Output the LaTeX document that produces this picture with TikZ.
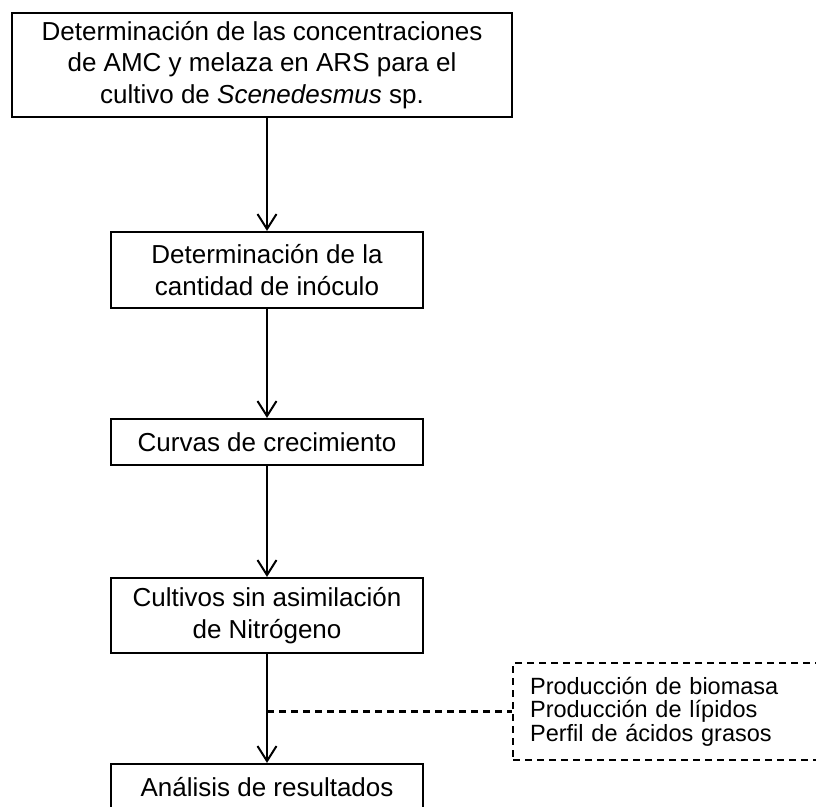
\documentclass[tikz,border=0pt]{standalone}
\usepackage{fontspec}
\setmainfont{Liberation Sans}
\usetikzlibrary{arrows.meta}
\tikzset{
  stepbox/.style={draw, line width=2.2pt, align=center, inner sep=0pt,
    font=\fontsize{26}{31.5}\selectfont},
  flowarrow/.style={line width=2.2pt, -{Straight Barb[length=15pt,width=19pt,line width=2pt]}},
  notebox/.style={draw, dashed, dash pattern=on 7pt off 5pt, line width=2.2pt,
    align=left, inner xsep=17pt, inner ysep=0pt, text width=306pt,
    minimum height=97pt, font=\fontsize{23.5}{23.5}\selectfont},
  noteline/.style={line width=2.2pt, dash pattern=on 7pt off 5pt}
}
\begin{document}
\begin{tikzpicture}[x=1pt,y=-1pt]
\useasboundingbox (0,0) rectangle (816,806);
\node[stepbox, minimum width=500pt, minimum height=104pt] (b1) at (262,65)
  {Determinación de las concentraciones\\de AMC y melaza en ARS para el\\cultivo de \textit{Scenedesmus} sp.};
\node[stepbox, minimum width=312pt, minimum height=76pt] (b2) at (267,270)
  {Determinación de la\\cantidad de inóculo};
\node[stepbox, minimum width=312pt, minimum height=46pt] (b3) at (267,442)
  {Curvas de crecimiento};
\node[stepbox, minimum width=312pt, minimum height=75pt] (b4) at (267,615.5)
  {Cultivos sin asimilación\\de Nitrógeno};
\node[stepbox, minimum width=312pt, minimum height=46pt] (b5) at (267,787)
  {Análisis de resultados};
\node[notebox, anchor=west] (nb) at (512,711.5)
  {Producción de biomasa\\Producción de lípidos\\Perfil de ácidos grasos};
\draw[flowarrow] (b2.north |- b1.south) -- (b2.north);
\draw[flowarrow] (b2.south) -- (b3.north);
\draw[flowarrow] (b3.south) -- (b4.north);
\draw[flowarrow] (b4.south) -- (b5.north);
\coordinate (j) at (b4.south |- nb.west);
\draw[noteline] (j) -- (nb.west);
\end{tikzpicture}
\end{document}
